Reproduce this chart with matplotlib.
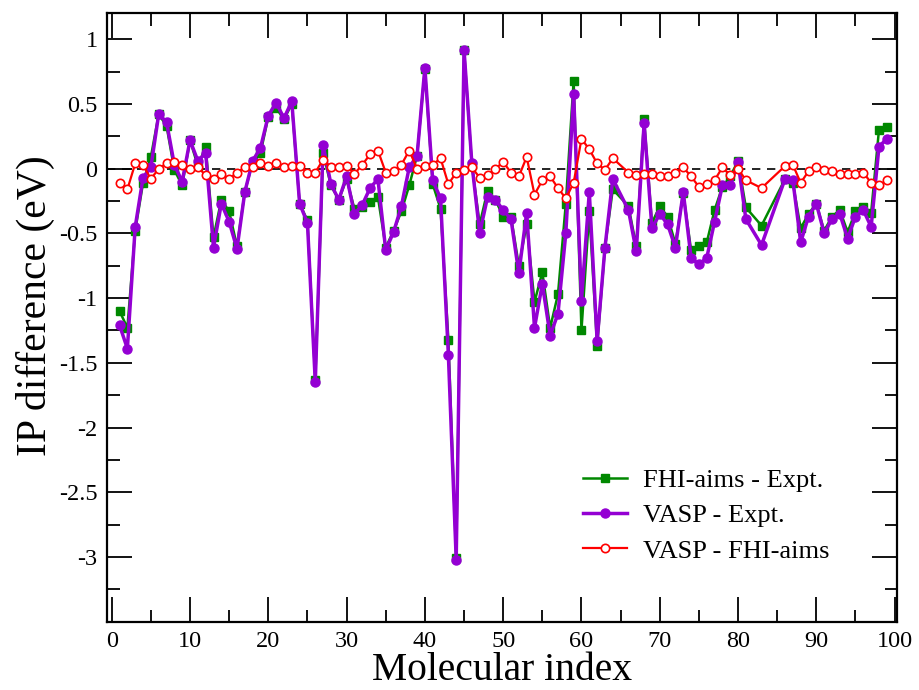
import numpy as np
import matplotlib
matplotlib.use('Agg')
import matplotlib.pyplot as plt
from matplotlib.ticker import MultipleLocator

plt.rcParams['font.family'] = ['Liberation Serif', 'DejaVu Serif']

# molecular indices (65, 82, 84, 85 are missing)
idx = [1, 2, 3, 4, 5, 6, 7, 8, 9, 10,
       11, 12, 13, 14, 15, 16, 17, 18, 19, 20,
       21, 22, 23, 24, 25, 26, 27, 28, 29, 30,
       31, 32, 33, 34, 35, 36, 37, 38, 39, 40,
       41, 42, 43, 44, 45, 46, 47, 48, 49, 50,
       51, 52, 53, 54, 55, 56, 57, 58, 59, 60,
       61, 62, 63, 64, 66, 67, 68, 69, 70,
       71, 72, 73, 74, 75, 76, 77, 78, 79, 80,
       81, 83, 86, 87, 88, 89, 90,
       91, 92, 93, 94, 95, 96, 97, 98, 99]

fhi_expt = [-1.10, -1.23, -0.48, -0.11, 0.09, 0.42, 0.33, -0.01, -0.13, 0.22,
            0.02, 0.17, -0.53, -0.24, -0.33, -0.60, -0.18, 0.05, 0.12, 0.40,
            0.47, 0.38, 0.50, -0.27, -0.40, -1.63, 0.12, -0.13, -0.24, -0.08,
            -0.31, -0.30, -0.26, -0.22, -0.61, -0.48, -0.33, -0.13, 0.10, 0.77,
            -0.12, -0.31, -1.32, -3.01, 0.92, 0.03, -0.43, -0.17, -0.24, -0.37,
            -0.37, -0.75, -0.43, -1.03, -0.80, -1.23, -0.97, -0.27, 0.68, -1.25,
            -0.33, -1.37, -0.61, -0.16, -0.29, -0.60, 0.38, -0.42, -0.29,
            -0.37, -0.58, -0.19, -0.63, -0.60, -0.57, -0.32, -0.14, -0.06, 0.06,
            -0.30, -0.44, -0.08, -0.11, -0.46, -0.35, -0.27,
            -0.48, -0.37, -0.32, -0.49, -0.33, -0.30, -0.34, 0.30, 0.32]

vasp_expt = [-1.21, -1.39, -0.45, -0.07, 0.01, 0.42, 0.36, 0.03, -0.10, 0.22,
             0.06, 0.12, -0.61, -0.27, -0.41, -0.62, -0.18, 0.06, 0.16, 0.41,
             0.51, 0.39, 0.52, -0.27, -0.42, -1.65, 0.18, -0.12, -0.24, -0.06,
             -0.35, -0.28, -0.15, -0.08, -0.63, -0.49, -0.29, 0.01, 0.10, 0.78,
             -0.09, -0.23, -1.44, -3.02, 0.92, 0.04, -0.50, -0.22, -0.24, -0.32,
             -0.39, -0.81, -0.34, -1.23, -0.89, -1.29, -1.12, -0.50, 0.58, -1.02,
             -0.18, -1.33, -0.61, -0.08, -0.32, -0.64, 0.35, -0.46, -0.35,
             -0.43, -0.61, -0.18, -0.69, -0.74, -0.69, -0.41, -0.13, -0.13, 0.05,
             -0.39, -0.59, -0.08, -0.09, -0.57, -0.37, -0.27,
             -0.50, -0.39, -0.35, -0.54, -0.37, -0.32, -0.45, 0.17, 0.23]

vasp_fhi = [-0.11, -0.16, 0.04, 0.03, -0.08, 0.00, 0.04, 0.05, 0.03, 0.00,
            0.01, -0.05, -0.08, -0.04, -0.08, -0.03, 0.01, 0.01, 0.04, 0.02,
            0.04, 0.01, 0.02, 0.02, -0.03, -0.03, 0.07, 0.01, 0.01, 0.02,
            -0.04, 0.03, 0.11, 0.14, -0.03, -0.02, 0.03, 0.14, 0.00, 0.02,
            0.03, 0.08, -0.12, -0.03, -0.01, 0.01, -0.07, -0.05, 0.00, 0.05,
            -0.03, -0.06, 0.09, -0.20, -0.09, -0.06, -0.15, -0.23, -0.11, 0.23,
            0.15, 0.04, -0.01, 0.08, -0.03, -0.05, -0.04, -0.04, -0.06,
            -0.06, -0.03, 0.01, -0.06, -0.14, -0.12, -0.09, 0.01, -0.05, 0.00,
            -0.09, -0.15, 0.02, 0.03, -0.11, -0.02, 0.01,
            -0.01, -0.02, -0.04, -0.04, -0.04, -0.03, -0.11, -0.13, -0.09]

fig = plt.figure(figsize=(9.19, 6.9), dpi=100)
ax = fig.add_axes([0.1168, 0.099, 0.8589, 0.8817])

ax.axhline(0, color='black', lw=1.2, ls=(0, (5, 4)), zorder=1)

ax.plot(idx, fhi_expt, color='#008800', lw=1.8, marker='s', ms=6,
        mec='#008800', mfc='#008800', label='FHI-aims - Expt.', zorder=2)
ax.plot(idx, vasp_expt, color='#9400d3', lw=2.5, marker='o', ms=6.5,
        mec='#9400d3', mfc='#9400d3', label='VASP - Expt.', zorder=3)
ax.plot(idx, vasp_fhi, color='#ff0000', lw=1.6, marker='o', ms=6,
        mec='#ff0000', mfc='white', mew=1.2, label='VASP - FHI-aims', zorder=4)

ax.set_xlim(-0.56, 100.26)
ax.set_ylim(-3.5, 1.2)
ax.xaxis.set_major_locator(MultipleLocator(10))
ax.xaxis.set_minor_locator(MultipleLocator(5))
ax.yaxis.set_minor_locator(MultipleLocator(0.25))
ax.set_yticks(np.arange(-3.5, 1.01, 0.5))
ax.set_yticklabels(['', '-3', '-2.5', '-2', '-1.5', '-1', '-0.5', '0', '0.5', '1'])
ax.tick_params(which='both', direction='in', top=True, right=True, width=1.3, labelsize=17.5)
ax.tick_params(which='major', length=18, pad=7)
ax.tick_params(which='minor', length=9)
for s in ax.spines.values():
    s.set_linewidth(1.6)

ax.set_xlabel('Molecular index', fontsize=28.5, labelpad=0)
ax.set_ylabel('IP difference (eV)', fontsize=30)
ax.yaxis.set_label_coords(-0.066, 0.52)

ax.legend(loc='upper left', bbox_to_anchor=(0.6026, 0.252), frameon=False, fontsize=19,
          handlelength=1.67, handletextpad=0.6, labelspacing=0.45,
          borderaxespad=0, borderpad=0)

fig.savefig('out.png', dpi=100)
